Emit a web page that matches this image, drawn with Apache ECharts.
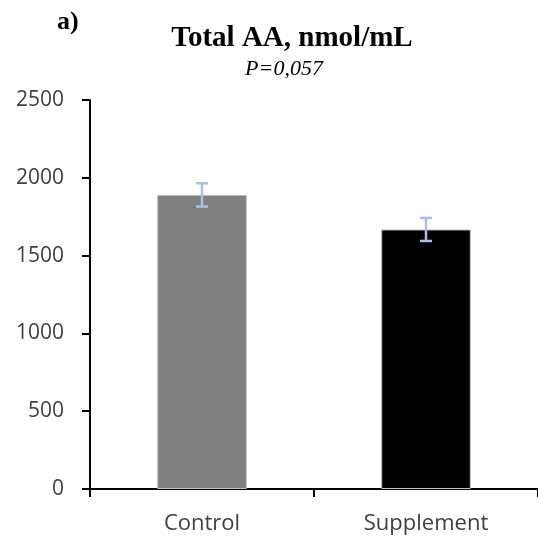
<!DOCTYPE html>
<html>
<head>
<meta charset="utf-8">
<script src="https://cdn.jsdelivr.net/npm/echarts@6/dist/echarts.min.js"></script>
<style>
  html, body { margin: 0; padding: 0; background: #fff; }
  #chart { width: 538px; height: 543px; }
</style>
</head>
<body>
<div id="chart"></div>
<script>
// Group labels and measured values
var groups = ['Control', 'Supplement'];
var meanValues = [1890, 1668];
var errorValues = [75, 74];
var barColors = ['#808080', '#000000'];
var yTicks = [0, 500, 1000, 1500, 2000, 2500];

var chart = echarts.init(document.getElementById('chart'), null, { renderer: 'canvas' });

var errorData = groups.map(function (g, i) {
  return [i, meanValues[i] - errorValues[i], meanValues[i] + errorValues[i]];
});

var option = {
  animation: false,
  backgroundColor: '#ffffff',
  title: [
    {
      text: 'Total AA, nmol/mL',
      left: 287, top: 19, textAlign: 'center',
      textStyle: { fontFamily: 'Liberation Serif', fontWeight: 'bold', fontSize: 29, color: '#000' }
    },
    {
      text: 'P=0,057',
      left: 279, top: 53, textAlign: 'center',
      textStyle: { fontFamily: 'Liberation Serif', fontStyle: 'italic', fontWeight: 'normal', fontSize: 22, color: '#000' }
    },
    {
      text: 'a)',
      left: 52, top: 4,
      textStyle: { fontFamily: 'Liberation Serif', fontWeight: 'bold', fontSize: 26, color: '#000' }
    }
  ],
  grid: { left: 90, right: -4, top: 100, bottom: 54, containLabel: false },
  xAxis: {
    type: 'category',
    data: groups,
    boundaryGap: true,
    axisLine: { show: true, lineStyle: { color: '#000', width: 2 } },
    axisTick: { show: true, alignWithLabel: false, length: 8, lineStyle: { color: '#000', width: 2 } },
    axisLabel: { margin: 24, fontFamily: 'Open Sans', fontSize: 22, color: '#404040' },
    splitLine: { show: false }
  },
  yAxis: {
    type: 'value',
    min: yTicks[0],
    max: yTicks[yTicks.length - 1],
    interval: yTicks[1] - yTicks[0],
    axisLine: { show: true, lineStyle: { color: '#000', width: 2 } },
    axisTick: { show: true, inside: false, length: 8, lineStyle: { color: '#000', width: 2 } },
    axisLabel: {
      margin: 26, fontFamily: 'Open Sans', fontSize: 21, color: '#404040',
      formatter: function (v) { return String(v); }
    },
    splitLine: { show: false }
  },
  series: [
    {
      type: 'bar',
      barWidth: '40%',
      data: meanValues.map(function (v, i) {
        return {
          value: v,
          itemStyle: { color: barColors[i], borderColor: '#bfbfbf', borderWidth: 1 }
        };
      }),
      z: 2
    },
    {
      type: 'custom',
      z: 5,
      data: errorData,
      renderItem: function (params, api) {
        var x = api.value(0);
        var lo = api.coord([x, api.value(1)]);
        var hi = api.coord([x, api.value(2)]);
        var capHalf = 6;
        var style = { stroke: '#a9c0e8', lineWidth: 2.5 };
        return {
          type: 'group',
          children: [
            { type: 'line', shape: { x1: lo[0], y1: lo[1], x2: hi[0], y2: hi[1] }, style: style },
            { type: 'line', shape: { x1: hi[0] - capHalf, y1: hi[1], x2: hi[0] + capHalf, y2: hi[1] }, style: style },
            { type: 'line', shape: { x1: lo[0] - capHalf, y1: lo[1], x2: lo[0] + capHalf, y2: lo[1] }, style: style }
          ]
        };
      }
    }
  ]
};

chart.setOption(option);
</script>
</body>
</html>
